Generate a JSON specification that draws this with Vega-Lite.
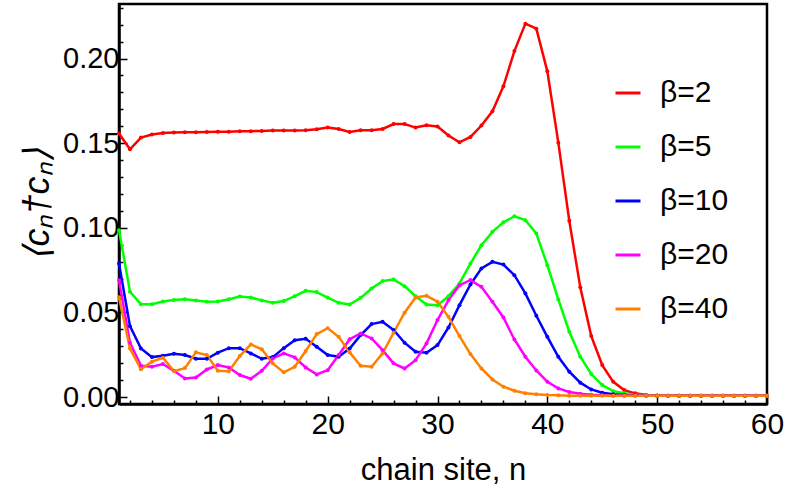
{
  "$schema": "https://vega.github.io/schema/vega-lite/v6.json",
  "description": "Site occupation along the chain for several beta",
  "width": 648,
  "height": 400,
  "autosize": {"type": "none"},
  "padding": {"left": 119, "top": 4, "right": 18, "bottom": 88},
  "config": {
    "font": "Liberation Sans",
    "view": {"stroke": "black", "strokeWidth": 2.5}
  },
  "data": {
    "values": [
      {"n":1,"s":"β=2","v":0.1557},{"n":2,"s":"β=2","v":0.1464},{"n":3,"s":"β=2","v":0.1533},{"n":4,"s":"β=2","v":0.1551},{"n":5,"s":"β=2","v":0.1560},
      {"n":6,"s":"β=2","v":0.1563},{"n":7,"s":"β=2","v":0.1565},{"n":8,"s":"β=2","v":0.1565},{"n":9,"s":"β=2","v":0.1566},{"n":10,"s":"β=2","v":0.1567},
      {"n":11,"s":"β=2","v":0.1568},{"n":12,"s":"β=2","v":0.1570},{"n":13,"s":"β=2","v":0.1571},{"n":14,"s":"β=2","v":0.1572},{"n":15,"s":"β=2","v":0.1574},
      {"n":16,"s":"β=2","v":0.1574},{"n":17,"s":"β=2","v":0.1575},{"n":18,"s":"β=2","v":0.1576},{"n":19,"s":"β=2","v":0.1582},{"n":20,"s":"β=2","v":0.1592},
      {"n":21,"s":"β=2","v":0.1584},{"n":22,"s":"β=2","v":0.1566},{"n":23,"s":"β=2","v":0.1576},{"n":24,"s":"β=2","v":0.1576},{"n":25,"s":"β=2","v":0.1584},
      {"n":26,"s":"β=2","v":0.1613},{"n":27,"s":"β=2","v":0.1613},{"n":28,"s":"β=2","v":0.1592},{"n":29,"s":"β=2","v":0.1606},{"n":30,"s":"β=2","v":0.1598},
      {"n":31,"s":"β=2","v":0.1545},{"n":32,"s":"β=2","v":0.1505},{"n":33,"s":"β=2","v":0.1537},{"n":34,"s":"β=2","v":0.1604},{"n":35,"s":"β=2","v":0.1688},
      {"n":36,"s":"β=2","v":0.1836},{"n":37,"s":"β=2","v":0.2044},{"n":38,"s":"β=2","v":0.2206},{"n":39,"s":"β=2","v":0.2176},{"n":40,"s":"β=2","v":0.1924},
      {"n":41,"s":"β=2","v":0.1503},{"n":42,"s":"β=2","v":0.1041},{"n":43,"s":"β=2","v":0.0648},{"n":44,"s":"β=2","v":0.0360},{"n":45,"s":"β=2","v":0.0189},
      {"n":46,"s":"β=2","v":0.0090},{"n":47,"s":"β=2","v":0.0041},{"n":48,"s":"β=2","v":0.0022},{"n":49,"s":"β=2","v":0.0012},{"n":50,"s":"β=2","v":0.0009},
      {"n":51,"s":"β=2","v":0.0008},{"n":52,"s":"β=2","v":0.0008},{"n":53,"s":"β=2","v":0.0008},{"n":54,"s":"β=2","v":0.0008},{"n":55,"s":"β=2","v":0.0008},
      {"n":56,"s":"β=2","v":0.0008},{"n":57,"s":"β=2","v":0.0008},{"n":58,"s":"β=2","v":0.0008},{"n":59,"s":"β=2","v":0.0008},{"n":60,"s":"β=2","v":0.0008},

      {"n":1,"s":"β=5","v":0.0986},{"n":2,"s":"β=5","v":0.0622},{"n":3,"s":"β=5","v":0.0549},{"n":4,"s":"β=5","v":0.0549},{"n":5,"s":"β=5","v":0.0565},
      {"n":6,"s":"β=5","v":0.0573},{"n":7,"s":"β=5","v":0.0578},{"n":8,"s":"β=5","v":0.0571},{"n":9,"s":"β=5","v":0.0563},{"n":10,"s":"β=5","v":0.0565},
      {"n":11,"s":"β=5","v":0.0578},{"n":12,"s":"β=5","v":0.0594},{"n":13,"s":"β=5","v":0.0588},{"n":14,"s":"β=5","v":0.0571},{"n":15,"s":"β=5","v":0.0557},
      {"n":16,"s":"β=5","v":0.0567},{"n":17,"s":"β=5","v":0.0596},{"n":18,"s":"β=5","v":0.0628},{"n":19,"s":"β=5","v":0.0620},{"n":20,"s":"β=5","v":0.0588},
      {"n":21,"s":"β=5","v":0.0557},{"n":22,"s":"β=5","v":0.0547},{"n":23,"s":"β=5","v":0.0586},{"n":24,"s":"β=5","v":0.0641},{"n":25,"s":"β=5","v":0.0685},
      {"n":26,"s":"β=5","v":0.0695},{"n":27,"s":"β=5","v":0.0655},{"n":28,"s":"β=5","v":0.0596},{"n":29,"s":"β=5","v":0.0547},{"n":30,"s":"β=5","v":0.0543},
      {"n":31,"s":"β=5","v":0.0596},{"n":32,"s":"β=5","v":0.0671},{"n":33,"s":"β=5","v":0.0789},{"n":34,"s":"β=5","v":0.0897},{"n":35,"s":"β=5","v":0.0976},
      {"n":36,"s":"β=5","v":0.1032},{"n":37,"s":"β=5","v":0.1068},{"n":38,"s":"β=5","v":0.1045},{"n":39,"s":"β=5","v":0.0966},{"n":40,"s":"β=5","v":0.0779},
      {"n":41,"s":"β=5","v":0.0577},{"n":42,"s":"β=5","v":0.0386},{"n":43,"s":"β=5","v":0.0238},{"n":44,"s":"β=5","v":0.0136},{"n":45,"s":"β=5","v":0.0071},
      {"n":46,"s":"β=5","v":0.0035},{"n":47,"s":"β=5","v":0.0022},{"n":48,"s":"β=5","v":0.0014},{"n":49,"s":"β=5","v":0.0010},{"n":50,"s":"β=5","v":0.0008},
      {"n":51,"s":"β=5","v":0.0008},{"n":52,"s":"β=5","v":0.0008},{"n":53,"s":"β=5","v":0.0008},{"n":54,"s":"β=5","v":0.0008},{"n":55,"s":"β=5","v":0.0008},
      {"n":56,"s":"β=5","v":0.0008},{"n":57,"s":"β=5","v":0.0008},{"n":58,"s":"β=5","v":0.0008},{"n":59,"s":"β=5","v":0.0008},{"n":60,"s":"β=5","v":0.0008},

      {"n":1,"s":"β=10","v":0.0789},{"n":2,"s":"β=10","v":0.0419},{"n":3,"s":"β=10","v":0.0287},{"n":4,"s":"β=10","v":0.0236},{"n":5,"s":"β=10","v":0.0244},
      {"n":6,"s":"β=10","v":0.0256},{"n":7,"s":"β=10","v":0.0248},{"n":8,"s":"β=10","v":0.0226},{"n":9,"s":"β=10","v":0.0226},{"n":10,"s":"β=10","v":0.0262},
      {"n":11,"s":"β=10","v":0.0289},{"n":12,"s":"β=10","v":0.0289},{"n":13,"s":"β=10","v":0.0258},{"n":14,"s":"β=10","v":0.0226},{"n":15,"s":"β=10","v":0.0236},
      {"n":16,"s":"β=10","v":0.0289},{"n":17,"s":"β=10","v":0.0336},{"n":18,"s":"β=10","v":0.0344},{"n":19,"s":"β=10","v":0.0297},{"n":20,"s":"β=10","v":0.0248},
      {"n":21,"s":"β=10","v":0.0238},{"n":22,"s":"β=10","v":0.0287},{"n":23,"s":"β=10","v":0.0366},{"n":24,"s":"β=10","v":0.0431},{"n":25,"s":"β=10","v":0.0445},
      {"n":26,"s":"β=10","v":0.0396},{"n":27,"s":"β=10","v":0.0321},{"n":28,"s":"β=10","v":0.0268},{"n":29,"s":"β=10","v":0.0262},{"n":30,"s":"β=10","v":0.0307},
      {"n":31,"s":"β=10","v":0.0411},{"n":32,"s":"β=10","v":0.0543},{"n":33,"s":"β=10","v":0.0665},{"n":34,"s":"β=10","v":0.0760},{"n":35,"s":"β=10","v":0.0799},
      {"n":36,"s":"β=10","v":0.0783},{"n":37,"s":"β=10","v":0.0720},{"n":38,"s":"β=10","v":0.0612},{"n":39,"s":"β=10","v":0.0480},{"n":40,"s":"β=10","v":0.0356},
      {"n":41,"s":"β=10","v":0.0238},{"n":42,"s":"β=10","v":0.0150},{"n":43,"s":"β=10","v":0.0085},{"n":44,"s":"β=10","v":0.0045},{"n":45,"s":"β=10","v":0.0026},
      {"n":46,"s":"β=10","v":0.0017},{"n":47,"s":"β=10","v":0.0012},{"n":48,"s":"β=10","v":0.0010},{"n":49,"s":"β=10","v":0.0008},{"n":50,"s":"β=10","v":0.0008},
      {"n":51,"s":"β=10","v":0.0008},{"n":52,"s":"β=10","v":0.0008},{"n":53,"s":"β=10","v":0.0008},{"n":54,"s":"β=10","v":0.0008},{"n":55,"s":"β=10","v":0.0008},
      {"n":56,"s":"β=10","v":0.0008},{"n":57,"s":"β=10","v":0.0008},{"n":58,"s":"β=10","v":0.0008},{"n":59,"s":"β=10","v":0.0008},{"n":60,"s":"β=10","v":0.0008},

      {"n":1,"s":"β=20","v":0.0690},{"n":2,"s":"β=20","v":0.0321},{"n":3,"s":"β=20","v":0.0185},{"n":4,"s":"β=20","v":0.0179},{"n":5,"s":"β=20","v":0.0195},
      {"n":6,"s":"β=20","v":0.0155},{"n":7,"s":"β=20","v":0.0110},{"n":8,"s":"β=20","v":0.0116},{"n":9,"s":"β=20","v":0.0163},{"n":10,"s":"β=20","v":0.0189},
      {"n":11,"s":"β=20","v":0.0175},{"n":12,"s":"β=20","v":0.0130},{"n":13,"s":"β=20","v":0.0108},{"n":14,"s":"β=20","v":0.0155},{"n":15,"s":"β=20","v":0.0228},
      {"n":16,"s":"β=20","v":0.0258},{"n":17,"s":"β=20","v":0.0234},{"n":18,"s":"β=20","v":0.0175},{"n":19,"s":"β=20","v":0.0134},{"n":20,"s":"β=20","v":0.0159},
      {"n":21,"s":"β=20","v":0.0248},{"n":22,"s":"β=20","v":0.0342},{"n":23,"s":"β=20","v":0.0376},{"n":24,"s":"β=20","v":0.0346},{"n":25,"s":"β=20","v":0.0277},
      {"n":26,"s":"β=20","v":0.0199},{"n":27,"s":"β=20","v":0.0169},{"n":28,"s":"β=20","v":0.0218},{"n":29,"s":"β=20","v":0.0317},{"n":30,"s":"β=20","v":0.0455},
      {"n":31,"s":"β=20","v":0.0573},{"n":32,"s":"β=20","v":0.0661},{"n":33,"s":"β=20","v":0.0691},{"n":34,"s":"β=20","v":0.0651},{"n":35,"s":"β=20","v":0.0563},
      {"n":36,"s":"β=20","v":0.0470},{"n":37,"s":"β=20","v":0.0340},{"n":38,"s":"β=20","v":0.0238},{"n":39,"s":"β=20","v":0.0157},{"n":40,"s":"β=20","v":0.0090},
      {"n":41,"s":"β=20","v":0.0051},{"n":42,"s":"β=20","v":0.0030},{"n":43,"s":"β=20","v":0.0020},{"n":44,"s":"β=20","v":0.0013},{"n":45,"s":"β=20","v":0.0010},
      {"n":46,"s":"β=20","v":0.0008},{"n":47,"s":"β=20","v":0.0008},{"n":48,"s":"β=20","v":0.0008},{"n":49,"s":"β=20","v":0.0008},{"n":50,"s":"β=20","v":0.0008},
      {"n":51,"s":"β=20","v":0.0008},{"n":52,"s":"β=20","v":0.0008},{"n":53,"s":"β=20","v":0.0008},{"n":54,"s":"β=20","v":0.0008},{"n":55,"s":"β=20","v":0.0008},
      {"n":56,"s":"β=20","v":0.0008},{"n":57,"s":"β=20","v":0.0008},{"n":58,"s":"β=20","v":0.0008},{"n":59,"s":"β=20","v":0.0008},{"n":60,"s":"β=20","v":0.0008},

      {"n":1,"s":"β=40","v":0.0590},{"n":2,"s":"β=40","v":0.0287},{"n":3,"s":"β=40","v":0.0165},{"n":4,"s":"β=40","v":0.0209},{"n":5,"s":"β=40","v":0.0232},
      {"n":6,"s":"β=40","v":0.0153},{"n":7,"s":"β=40","v":0.0171},{"n":8,"s":"β=40","v":0.0264},{"n":9,"s":"β=40","v":0.0248},{"n":10,"s":"β=40","v":0.0155},
      {"n":11,"s":"β=40","v":0.0153},{"n":12,"s":"β=40","v":0.0242},{"n":13,"s":"β=40","v":0.0311},{"n":14,"s":"β=40","v":0.0282},{"n":15,"s":"β=40","v":0.0199},
      {"n":16,"s":"β=40","v":0.0146},{"n":17,"s":"β=40","v":0.0179},{"n":18,"s":"β=40","v":0.0272},{"n":19,"s":"β=40","v":0.0372},{"n":20,"s":"β=40","v":0.0407},
      {"n":21,"s":"β=40","v":0.0356},{"n":22,"s":"β=40","v":0.0264},{"n":23,"s":"β=40","v":0.0185},{"n":24,"s":"β=40","v":0.0179},{"n":25,"s":"β=40","v":0.0258},
      {"n":26,"s":"β=40","v":0.0380},{"n":27,"s":"β=40","v":0.0498},{"n":28,"s":"β=40","v":0.0588},{"n":29,"s":"β=40","v":0.0598},{"n":30,"s":"β=40","v":0.0563},
      {"n":31,"s":"β=40","v":0.0474},{"n":32,"s":"β=40","v":0.0360},{"n":33,"s":"β=40","v":0.0254},{"n":34,"s":"β=40","v":0.0169},{"n":35,"s":"β=40","v":0.0104},
      {"n":36,"s":"β=40","v":0.0061},{"n":37,"s":"β=40","v":0.0037},{"n":38,"s":"β=40","v":0.0022},{"n":39,"s":"β=40","v":0.0016},{"n":40,"s":"β=40","v":0.0012},
      {"n":41,"s":"β=40","v":0.0010},{"n":42,"s":"β=40","v":0.0008},{"n":43,"s":"β=40","v":0.0008},{"n":44,"s":"β=40","v":0.0008},{"n":45,"s":"β=40","v":0.0008},
      {"n":46,"s":"β=40","v":0.0008},{"n":47,"s":"β=40","v":0.0008},{"n":48,"s":"β=40","v":0.0008},{"n":49,"s":"β=40","v":0.0008},{"n":50,"s":"β=40","v":0.0008},
      {"n":51,"s":"β=40","v":0.0008},{"n":52,"s":"β=40","v":0.0008},{"n":53,"s":"β=40","v":0.0008},{"n":54,"s":"β=40","v":0.0008},{"n":55,"s":"β=40","v":0.0008},
      {"n":56,"s":"β=40","v":0.0008},{"n":57,"s":"β=40","v":0.0008},{"n":58,"s":"β=40","v":0.0008},{"n":59,"s":"β=40","v":0.0008},{"n":60,"s":"β=40","v":0.0008}
    ]
  },
  "mark": {"type": "line", "strokeWidth": 2.5, "point": {"size": 16, "filled": true}},
  "encoding": {
    "x": {
      "field": "n",
      "type": "quantitative",
      "scale": {"domain": [1, 60], "nice": false, "zero": false},
      "axis": {
        "title": "chain site, n",
        "titleFontSize": 31,
        "titleFontWeight": "normal",
        "titleColor": "black",
        "titlePadding": 16,
        "values": [2,4,6,8,10,12,14,16,18,20,22,24,26,28,30,32,34,36,38,40,42,44,46,48,50,52,54,56,58,60],
        "labelExpr": "datum.value % 10 === 0 ? datum.label : ''",
        "labelFontSize": 30,
        "labelColor": "black",
        "labelPadding": 13,
        "labelFlush": false,
        "grid": false,
        "domainColor": "black",
        "domainWidth": 2.5,
        "tickColor": "black",
        "tickWidth": 1.5,
        "tickSize": {"condition": {"test": "datum.value % 10 === 0", "value": -8}, "value": -4}
      }
    },
    "y": {
      "field": "v",
      "type": "quantitative",
      "scale": {"domain": [-0.0041, 0.2322], "nice": false, "zero": false},
      "axis": {
        "title": "⟨cₙ†cₙ⟩",
        "titleFontSize": 36,
        "titleFontStyle": "italic",
        "titleFontWeight": "normal",
        "titleColor": "black",
        "titlePadding": 6,
        "values": [0,0.01,0.02,0.03,0.04,0.05,0.06,0.07,0.08,0.09,0.1,0.11,0.12,0.13,0.14,0.15,0.16,0.17,0.18,0.19,0.2,0.21,0.22,0.23],
        "labelExpr": "round(datum.value * 100) % 5 === 0 ? format(datum.value, '.2f') : ''",
        "labelFontSize": 29,
        "labelColor": "black",
        "labelPadding": 8,
        "labelFlush": false,
        "grid": false,
        "domainColor": "black",
        "domainWidth": 2.5,
        "tickColor": "black",
        "tickWidth": 1.5,
        "tickSize": {"condition": {"test": "round(datum.value * 100) % 5 === 0", "value": -8}, "value": -4}
      }
    },
    "color": {
      "field": "s",
      "type": "nominal",
      "scale": {
        "domain": ["β=2", "β=5", "β=10", "β=20", "β=40"],
        "range": ["#ff0000", "#00ff00", "#0000ff", "#ff00ff", "#ff8000"]
      },
      "legend": {
        "title": null,
        "orient": "none",
        "legendX": 494,
        "legendY": 74,
        "symbolType": "stroke",
        "symbolStrokeWidth": 3,
        "symbolSize": 625,
        "labelFontSize": 30,
        "labelColor": "black",
        "labelOffset": 17,
        "rowPadding": 24
      }
    }
  }
}
